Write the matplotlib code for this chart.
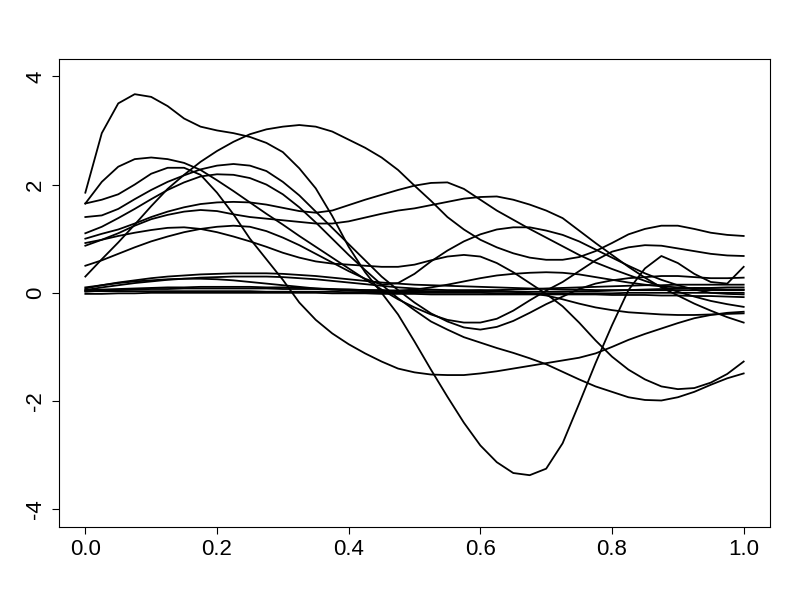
import numpy as np
import matplotlib
matplotlib.use("Agg")
import matplotlib.pyplot as plt

x = np.round(np.linspace(0, 1, 41), 3)

curve_spike = [1.85, 2.95, 3.5, 3.67, 3.62, 3.45, 3.22, 3.07, 3.0, 2.95, 2.88, 2.77, 2.6, 2.3, 1.93, 1.42,
               0.85, 0.38, 0.0, -0.4, -0.9, -1.42, -1.92, -2.4, -2.82, -3.13, -3.33, -3.37, -3.25, -2.78,
               -2.05, -1.3, -0.6, 0.05, 0.45, 0.68, 0.55, 0.35, 0.2, 0.17, 0.48]
curve_arc = [0.3, 0.62, 0.93, 1.26, 1.6, 1.92, 2.18, 2.42, 2.62, 2.79, 2.93, 3.02, 3.07, 3.1, 3.07, 2.98,
             2.83, 2.68, 2.5, 2.27, 1.98, 1.7, 1.4, 1.17, 0.98, 0.84, 0.73, 0.65, 0.61, 0.61,
             0.66, 0.77, 0.92, 1.08, 1.18, 1.24, 1.24, 1.18, 1.11, 1.07, 1.05]
curve_m = [1.65, 1.72, 1.82, 2.0, 2.2, 2.31, 2.31, 2.18, 1.85, 1.45, 1.0, 0.62, 0.24, -0.18, -0.5, -0.75,
           -0.95, -1.12, -1.27, -1.4, -1.47, -1.51, -1.52, -1.52, -1.49, -1.45, -1.4, -1.35, -1.3, -1.25,
           -1.2, -1.12, -1.0, -0.87, -0.76, -0.66, -0.56, -0.47, -0.41, -0.37, -0.35]
curve_d = [1.65, 2.05, 2.33, 2.47, 2.5, 2.47, 2.4, 2.27, 2.08, 1.88, 1.67, 1.46, 1.26, 1.05, 0.85, 0.65,
           0.45, 0.25, 0.06, -0.12, -0.27, -0.4, -0.5, -0.55, -0.55, -0.48, -0.33, -0.14, 0.04, 0.2,
           0.4, 0.6, 0.76, 0.84, 0.88, 0.87, 0.82, 0.77, 0.72, 0.69, 0.68]
curve_e = [1.4, 1.43, 1.55, 1.73, 1.9, 2.05, 2.17, 2.28, 2.35, 2.38, 2.35, 2.25, 2.05, 1.8, 1.5, 1.2,
           0.9, 0.6, 0.3, 0.05, -0.18, -0.38, -0.53, -0.64, -0.68, -0.63, -0.52, -0.37, -0.21, -0.07,
           0.07, 0.17, 0.23, 0.27, 0.29, 0.31, 0.31, 0.29, 0.27, 0.27, 0.28]
curve_f = [1.1, 1.22, 1.38, 1.55, 1.73, 1.9, 2.04, 2.15, 2.19, 2.18, 2.12, 2.0, 1.82, 1.58, 1.3, 1.0,
           0.7, 0.42, 0.15, -0.1, -0.32, -0.53, -0.68, -0.82, -0.92, -1.02, -1.11, -1.21, -1.32, -1.46,
           -1.6, -1.73, -1.83, -1.93, -1.98, -1.99, -1.93, -1.83, -1.7, -1.58, -1.49]
curve_b = [1.0, 1.09, 1.17, 1.28, 1.4, 1.5, 1.58, 1.64, 1.67, 1.68, 1.67, 1.63, 1.57, 1.51, 1.48, 1.52,
           1.62, 1.72, 1.81, 1.9, 1.98, 2.03, 2.04, 1.92, 1.72, 1.52, 1.35, 1.18, 1.02, 0.86,
           0.7, 0.56, 0.44, 0.33, 0.22, 0.12, 0.02, -0.07, -0.15, -0.21, -0.26]
curve_c = [0.87, 0.98, 1.1, 1.24, 1.36, 1.44, 1.5, 1.53, 1.51, 1.45, 1.4, 1.37, 1.34, 1.31, 1.28, 1.28,
           1.32, 1.39, 1.46, 1.52, 1.56, 1.62, 1.68, 1.74, 1.77, 1.78, 1.72, 1.63, 1.52, 1.38,
           1.15, 0.92, 0.7, 0.48, 0.28, 0.1, -0.05, -0.2, -0.33, -0.45, -0.55]
curve_h = [0.5, 0.6, 0.72, 0.84, 0.95, 1.04, 1.12, 1.18, 1.22, 1.24, 1.22, 1.14, 1.02, 0.88, 0.72, 0.56,
           0.4, 0.26, 0.15, 0.18, 0.35, 0.58, 0.78, 0.95, 1.08, 1.17, 1.21, 1.21, 1.15, 1.07,
           0.95, 0.8, 0.65, 0.5, 0.36, 0.24, 0.14, 0.06, 0.0, -0.02, -0.03]
curve_g = [0.92, 0.98, 1.05, 1.11, 1.16, 1.2, 1.21, 1.18, 1.12, 1.04, 0.95, 0.85, 0.74, 0.65, 0.58, 0.54,
           0.52, 0.5, 0.48, 0.48, 0.52, 0.6, 0.67, 0.7, 0.67, 0.55, 0.38, 0.18, -0.02, -0.25,
           -0.55, -0.88, -1.18, -1.42, -1.6, -1.73, -1.78, -1.76, -1.66, -1.5, -1.27]
curve_a1 = [0.08, 0.14, 0.19, 0.23, 0.27, 0.3, 0.32, 0.34, 0.35, 0.36, 0.36, 0.36, 0.35, 0.33, 0.31, 0.28,
            0.25, 0.22, 0.19, 0.17, 0.15, 0.14, 0.13, 0.12, 0.11, 0.1, 0.09, 0.08, 0.07, 0.06,
            0.06, 0.05, 0.05, 0.05, 0.05, 0.05, 0.05, 0.05, 0.05, 0.05, 0.05]
curve_k = [0.05, 0.1, 0.14, 0.18, 0.21, 0.24, 0.26, 0.28, 0.29, 0.3, 0.3, 0.3, 0.29, 0.27, 0.25, 0.22,
           0.19, 0.16, 0.13, 0.1, 0.08, 0.06, 0.05, 0.05, 0.05, 0.04, 0.02, -0.01, -0.05, -0.12,
           -0.2, -0.27, -0.32, -0.36, -0.38, -0.4, -0.41, -0.41, -0.4, -0.39, -0.38]
curve_j = [0.1, 0.14, 0.18, 0.21, 0.23, 0.25, 0.26, 0.26, 0.25, 0.23, 0.2, 0.17, 0.14, 0.11, 0.08, 0.06,
           0.04, 0.03, 0.03, 0.04, 0.06, 0.1, 0.15, 0.21, 0.27, 0.32, 0.35, 0.37, 0.38, 0.37,
           0.34, 0.29, 0.24, 0.19, 0.15, 0.12, 0.1, 0.08, 0.07, 0.06, 0.06]
curve_z1 = [0.02, 0.04, 0.05, 0.06, 0.07, 0.07, 0.08, 0.08, 0.08, 0.08, 0.08, 0.08, 0.07, 0.07, 0.07, 0.06,
            0.06, 0.05, 0.05, 0.04, 0.04, 0.03, 0.03, 0.03, 0.02, 0.02, 0.02, 0.02, 0.02, 0.02,
            0.03, 0.03, 0.04, 0.05, 0.06, 0.07, 0.08, 0.09, 0.09, 0.1, 0.1]
curve_z2 = [0.03, 0.03, 0.03, 0.03, 0.03, 0.03, 0.03, 0.03, 0.03, 0.03, 0.03, 0.02, 0.02, 0.02, 0.02, 0.02,
            0.01, 0.01, 0.01, 0.0, 0.0, 0.0, 0.0, 0.0, 0.0, -0.01, -0.01, -0.01, -0.01, -0.01,
            -0.01, -0.01, -0.01, 0.0, 0.0, 0.0, 0.0, 0.0, 0.0, 0.0, 0.0]
curve_z3 = [-0.02, -0.02, -0.01, -0.01, 0.0, 0.0, 0.0, 0.0, 0.0, 0.0, 0.0, 0.0, 0.0, 0.0, 0.0, -0.01,
            -0.01, -0.01, -0.02, -0.02, -0.02, -0.03, -0.03, -0.03, -0.03, -0.03, -0.03, -0.03, -0.03, -0.03,
            -0.03, -0.03, -0.04, -0.04, -0.04, -0.05, -0.05, -0.06, -0.06, -0.07, -0.08]
curve_z4 = [0.05, 0.06, 0.07, 0.08, 0.09, 0.1, 0.1, 0.11, 0.11, 0.11, 0.11, 0.1, 0.1, 0.09, 0.08, 0.07,
            0.06, 0.05, 0.04, 0.03, 0.02, 0.02, 0.02, 0.03, 0.04, 0.05, 0.06, 0.07, 0.08, 0.09,
            0.1, 0.11, 0.12, 0.13, 0.14, 0.14, 0.15, 0.15, 0.15, 0.15, 0.15]

curves = [curve_spike, curve_arc, curve_m, curve_d, curve_e, curve_f, curve_b, curve_c, curve_h,
          curve_g, curve_a1, curve_k, curve_j, curve_z1, curve_z2, curve_z3, curve_z4]

xticks = [0.0, 0.2, 0.4, 0.6, 0.8, 1.0]
xtick_labels = ["0.0", "0.2", "0.4", "0.6", "0.8", "1.0"]
yticks = [-4, -2, 0, 2, 4]
ytick_labels = ["-4", "-2", "0", "2", "4"]

plt.rcParams['font.family'] = ['Liberation Sans', 'DejaVu Sans']
fig = plt.figure(figsize=(8, 6), dpi=100)
ax = fig.add_axes([59/800, 1 - 526.6/600, (770-59)/800, (526.6-59)/600])
for c in curves:
    ax.plot(x, c, color='black', lw=1.3, solid_joinstyle='round')
ax.set_xlim(-0.04, 1.04)
ax.set_ylim(-4.32, 4.32)
ax.set_xticks(xticks)
ax.set_xticklabels(xtick_labels)
ax.set_yticks(yticks)
ax.set_yticklabels(ytick_labels, rotation=90, va='center')
ax.tick_params(direction='out', length=5.2, width=0.8, labelsize=16, pad=4)
for s in ax.spines.values():
    s.set_linewidth(0.8)
fig.savefig("out.png", dpi=100)
